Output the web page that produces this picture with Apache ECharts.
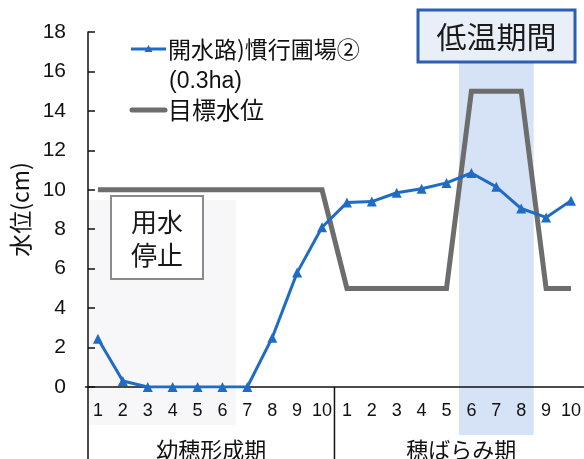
<!DOCTYPE html>
<html>
<head>
<meta charset="utf-8">
<style>html,body{margin:0;padding:0;background:#fff;}#c{width:584px;height:459px;}</style>
<script src="https://cdn.jsdelivr.net/npm/echarts@6/dist/echarts.min.js"></script>
</head>
<body>
<div id="c"></div>
<script>
// ---- data ----
const dayLabels = ['1','2','3','4','5','6','7','8','9','10','1','2','3','4','5','6','7','8','9','10'];
const periodNames = ['幼穂形成期', '穂ばらみ期'];
const measuredName = '開水路)慣行圃場②';
const measuredSub = '(0.3ha)';
const targetName = '目標水位';
const measured = [2.45, 0.3, 0, 0, 0, 0, 0, 2.5, 5.8, 8.1, 9.35, 9.4, 9.85, 10.05, 10.35, 10.85, 10.15, 9.05, 8.6, 9.45];
const target = [10, 10, 10, 10, 10, 10, 10, 10, 10, 10, 5, 5, 5, 5, 5, 15, 15, 15, 5, 5];
const yTicks = [0, 2, 4, 6, 8, 10, 12, 14, 16, 18];
const coldStartIdx = 15, coldEndIdx = 17; // 6..8 of 穂ばらみ期
const stopStartIdx = 0, stopEndIdx = 5;
const coldLabel = '低温期間';
const stopLabel = '用水\n停止';

const FONT = "'Liberation Sans', 'Noto Sans CJK JP', sans-serif";
const JFONT = "'Noto Sans CJK JP', 'Liberation Sans', sans-serif";
const BLUE = '#1f6cc6';
const GRAY = '#6d6d6d';

const chart = echarts.init(document.getElementById('c'), null, {renderer: 'canvas'});
const gridLeft = 85.5, gridTop = 32, gridBottom = 72, gridRight = 0.5;

chart.setOption({
  animation: false,
  backgroundColor: '#fff',
  grid: {left: gridLeft, right: gridRight, top: gridTop, bottom: gridBottom, containLabel: false},
  xAxis: {
    type: 'category',
    data: dayLabels,
    boundaryGap: true,
    axisLine: {lineStyle: {color: '#111', width: 1.5}},
    axisTick: {show: false},
    axisLabel: {interval: 0, color: '#111', fontSize: 18, fontFamily: FONT, margin: 15},
    splitLine: {show: false}
  },
  yAxis: {
    type: 'value',
    min: yTicks[0], max: yTicks[yTicks.length - 1], interval: 2,
    offset: -2.5,
    name: '水位(cm)',
    nameLocation: 'middle',
    nameGap: 54,
    nameRotate: 90,
    nameTextStyle: {color: '#111', fontSize: 23, fontFamily: JFONT},
    axisLine: {show: true, lineStyle: {color: '#111', width: 1.5}},
    axisTick: {show: true, inside: true, length: 7, lineStyle: {color: '#111', width: 1.5}},
    axisLabel: {color: '#111', fontSize: 21, fontFamily: FONT, margin: 22},
    splitLine: {show: false}
  },
  series: [
    {
      name: targetName, type: 'line', data: target, z: 3,
      symbol: 'none',
      lineStyle: {color: GRAY, width: 5, join: 'miter'},
      itemStyle: {color: GRAY}
    },
    {
      name: measuredName, type: 'line', data: measured, z: 4,
      symbol: 'triangle', symbolSize: 10,
      lineStyle: {color: BLUE, width: 3},
      itemStyle: {color: BLUE}
    }
  ]
});

function buildGraphics() {
  const px = i => chart.convertToPixel({xAxisIndex: 0}, i);
  const py = v => chart.convertToPixel({yAxisIndex: 0}, v);
  const band = px(1) - px(0);
  const y0 = py(0);
  const yAxisX = gridLeft + 2.5;
  const divX = (px(9) + px(10)) / 2;
  const coldL = px(coldStartIdx) - band / 2, coldR = px(coldEndIdx) + band / 2;
  const stopL = yAxisX, stopR = px(stopEndIdx) + band / 2;
  const els = [];
  // cold period shading
  els.push({type: 'rect', z: -10, silent: true,
    shape: {x: coldL, y: 63, width: coldR - coldL, height: 435 - 63},
    style: {fill: '#d6e2f6'}});
  // faint shading of water-stop period
  els.push({type: 'rect', z: -10, silent: true,
    shape: {x: stopL + 1, y: 200, width: stopR - stopL, height: 225},
    style: {fill: '#f7f7f9'}});
  // table lines under axis
  els.push({type: 'line', z: 5, silent: true, shape: {x1: yAxisX, y1: y0, x2: yAxisX, y2: 459},
    style: {stroke: '#111', lineWidth: 1.5}});
  els.push({type: 'line', z: 5, silent: true, shape: {x1: divX, y1: y0, x2: divX, y2: 459},
    style: {stroke: '#111', lineWidth: 1.5}});
  // period labels
  els.push({type: 'text', z: 5, silent: true, x: (yAxisX + divX) / 2, y: 450,
    style: {text: periodNames[0], fontSize: 22, fontFamily: JFONT, fill: '#111', align: 'center', verticalAlign: 'middle'}});
  els.push({type: 'text', z: 5, silent: true, x: (divX + 584) / 2 + 2, y: 450,
    style: {text: periodNames[1], fontSize: 22, fontFamily: JFONT, fill: '#111', align: 'center', verticalAlign: 'middle'}});
  // cold period label box
  els.push({type: 'rect', z: 6, silent: true,
    shape: {x: 418, y: 10, width: 157, height: 52},
    style: {fill: '#e9eff9', stroke: '#2c5fb3', lineWidth: 3}});
  els.push({type: 'text', z: 7, silent: true, x: 496.5, y: 37,
    style: {text: coldLabel, fontSize: 30, fontFamily: JFONT, fill: '#1a1a1a', align: 'center', verticalAlign: 'middle'}});
  // water stop box
  els.push({type: 'rect', z: 6, silent: true,
    shape: {x: 111, y: 196, width: 92, height: 83},
    style: {fill: '#fff', stroke: '#8a8a8a', lineWidth: 2}});
  els.push({type: 'text', z: 7, silent: true, x: 157, y: 238.5,
    style: {text: stopLabel, fontSize: 26, lineHeight: 33, fontFamily: JFONT, fill: '#1a1a1a', align: 'center', verticalAlign: 'middle'}});
  // legend
  els.push({type: 'line', z: 7, silent: true, shape: {x1: 131, y1: 49, x2: 166, y2: 49},
    style: {stroke: BLUE, lineWidth: 3}});
  els.push({type: 'polygon', z: 8, silent: true, shape: {points: [[148.5, 45], [152.5, 52], [144.5, 52]]},
    style: {fill: BLUE}});
  els.push({type: 'text', z: 7, silent: true, x: 168, y: 49,
    style: {text: measuredName, fontSize: 23, fontFamily: JFONT, fill: '#111', align: 'left', verticalAlign: 'middle'}});
  els.push({type: 'text', z: 7, silent: true, x: 169, y: 82,
    style: {text: measuredSub, fontSize: 23, fontFamily: FONT, fill: '#111', align: 'left', verticalAlign: 'middle'}});
  els.push({type: 'line', z: 7, silent: true, shape: {x1: 132, y1: 110, x2: 165, y2: 110},
    style: {stroke: GRAY, lineWidth: 5, lineCap: 'round'}});
  els.push({type: 'text', z: 7, silent: true, x: 168, y: 110,
    style: {text: targetName, fontSize: 24, fontFamily: JFONT, fill: '#111', align: 'left', verticalAlign: 'middle'}});
  chart.setOption({graphic: els});
}
buildGraphics();
</script>
</body>
</html>
